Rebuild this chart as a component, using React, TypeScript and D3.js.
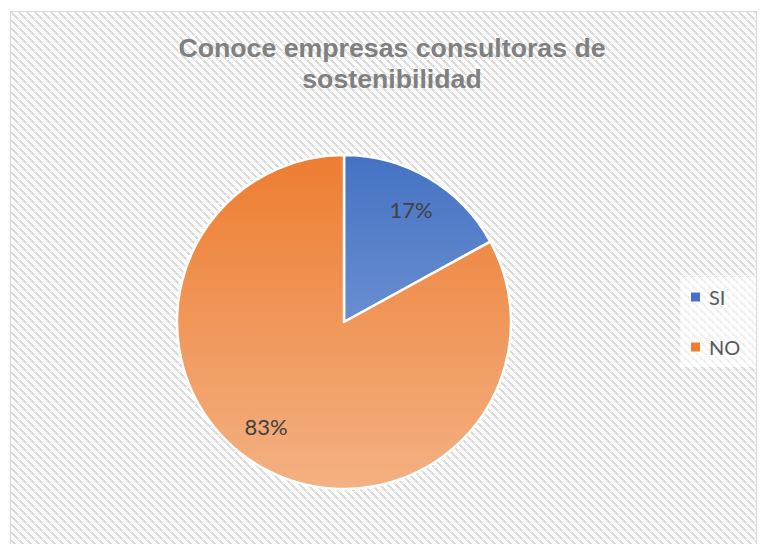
import React from "react";
import * as d3 from "d3";

const categories = ["SI", "NO"];
const values = [17, 83];
const labels = ["17%", "83%"];
const titleLines = ["Conoce empresas consultoras de", "sostenibilidad"];

const W = 761;
const H = 544;

export default function App() {
  const cx = 344;
  const cy = 322;
  const r = 167;
  const pie = d3.pie<number>().sort(null).value((d) => d)(values);
  const arc = d3.arc<d3.PieArcDatum<number>>().innerRadius(0).outerRadius(r);
  const labelPos: [number, number][] = [
    [67, -113],
    [-78, 104],
  ];
  const grads = [
    ["#4472C4", "#8FAADC"],
    ["#ED7D31", "#F4B183"],
  ];
  const legendColors = ["#4472C4", "#ED7D31"];
  const labelFont = "Lato, 'Open Sans', sans-serif";
  return (
    <svg
      width={W}
      height={H}
      style={{ position: "absolute", left: 0, top: 0 }}
    >
      <defs>
        <pattern id="hatch" width="8" height="8" patternUnits="userSpaceOnUse" x="10" y="11">
          <rect width="8" height="8" fill="#ffffff" />
          {d3.range(8).map((i) => (
            <rect key={i} x={(i - 1 + 8) % 8} y={i} width={3} height={1} fill="#dcdcdc" shapeRendering="crispEdges" />
          ))}
          {d3.range(8).map((i) => (
            <rect key={"b" + i} x={i - 9} y={i} width={3} height={1} fill="#dcdcdc" shapeRendering="crispEdges" />
          ))}
          <rect x={7} y={0} width={1} height={1} fill="#dcdcdc" />
        </pattern>
        {grads.map((g, i) => (
          <linearGradient
            key={i}
            id={"g" + i}
            gradientUnits="userSpaceOnUse"
            x1={0}
            y1={-r}
            x2={0}
            y2={r}
          >
            <stop offset="0" stopColor={g[0]} />
            <stop offset="1" stopColor={g[1]} />
          </linearGradient>
        ))}
      </defs>
      <rect x={0} y={0} width={W} height={H} fill="#ffffff" />
      <rect
        x={10.5}
        y={11.5}
        width={746}
        height={540}
        fill="url(#hatch)"
        stroke="#d9d9d9"
        strokeWidth={1}
      />
      <text
        textAnchor="middle"
        fontFamily="'Liberation Sans', Arial, Helvetica, sans-serif"
        fontWeight="bold"
        fontSize={26.7}
        fill="#808080"
      >
        {titleLines.map((t, i) => (
          <tspan key={i} x={392} y={57 + i * 31}>
            {t}
          </tspan>
        ))}
      </text>
      <g transform={`translate(${cx},${cy})`}>
        {pie.map((p, i) => (
          <path
            key={i}
            d={arc(p) || ""}
            fill={`url(#g${i})`}
            stroke="#ffffff"
            strokeWidth={2.5}
            strokeLinejoin="round"
          />
        ))}
      </g>
      {labels.map((l, i) => (
        <text
          key={i}
          x={cx + labelPos[i][0]}
          y={cy + labelPos[i][1]}
          textAnchor="middle"
          dominantBaseline="central"
          fontFamily={labelFont}
          fontSize={22}
          fill="#404040"
        >
          {l}
        </text>
      ))}
      <rect x={680} y={277} width={76} height={90} fill="#ffffff" opacity={0.6} />
      {categories.map((c, i) => (
        <g key={c} transform={`translate(0,${297 + i * 50})`}>
          <rect x={691} y={-4.5} width={9} height={9} fill={legendColors[i]} />
          <text
            x={709}
            y={0}
            dominantBaseline="central"
            fontFamily={labelFont}
            fontSize={20}
            fill="#595959"
          >
            {c}
          </text>
        </g>
      ))}
    </svg>
  );
}
